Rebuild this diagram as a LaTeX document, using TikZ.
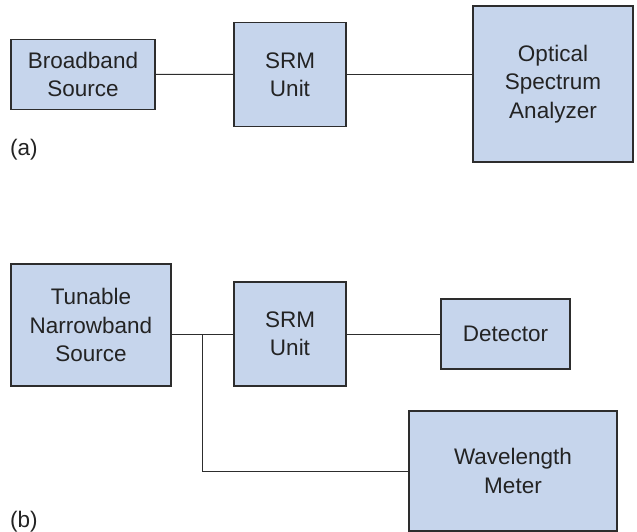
\documentclass[tikz,border=0pt]{standalone}
\usepackage{fontspec}
\setmainfont{Liberation Sans}
\definecolor{boxfill}{RGB}{198,213,236}
\definecolor{boxline}{RGB}{45,45,45}
\definecolor{txt}{RGB}{35,35,35}
\begin{document}
\begin{tikzpicture}[x=1pt,y=-1pt,
  blk/.style={draw=boxline, line width=1.3pt, fill=boxfill, text=txt, align=center,
    inner sep=0pt, font=\fontsize{22.5}{28.3}\selectfont},
  wire/.style={draw=boxline, line width=1pt},
  lbl/.style={anchor=west, inner sep=0pt, text=txt, font=\fontsize{22.5}{28.3}\selectfont}]
\useasboundingbox (0,0) rectangle (637,532);
% (a)
\node[blk, minimum width=144pt, minimum height=70pt] (bb) at (83,74.3) {Broadband\\Source};
\node[blk, minimum width=112pt, minimum height=104pt] (srma) at (290,74.5) {SRM\\Unit};
\node[blk, minimum width=160pt, minimum height=156pt] (osa) at (553,84) {Optical\\Spectrum\\Analyzer};
\node[lbl] (la) at (10,150) {(a)};
\draw[wire] (bb.east) -- (srma.west);
\draw[wire] (srma.east) -- (osa.west |- srma.east);
% (b)
\node[blk, minimum width=160pt, minimum height=122pt] (tns) at (91,325) {Tunable\\Narrowband\\Source};
\node[blk, minimum width=112pt, minimum height=104pt] (srmb) at (290,334) {SRM\\Unit};
\node[blk, minimum width=129pt, minimum height=70pt] (det) at (505.5,334) {Detector};
\node[blk, minimum width=208pt, minimum height=120pt] (wm) at (513,471) {Wavelength\\Meter};
\node[lbl] (lb) at (10,522) {(b)};
\coordinate (j) at (202,334);
\draw[wire] (tns.east |- srmb.west) -- (srmb.west);
\draw[wire] (j) |- (wm.west);
\draw[wire] (srmb.east) -- (det.west);
\end{tikzpicture}
\end{document}
